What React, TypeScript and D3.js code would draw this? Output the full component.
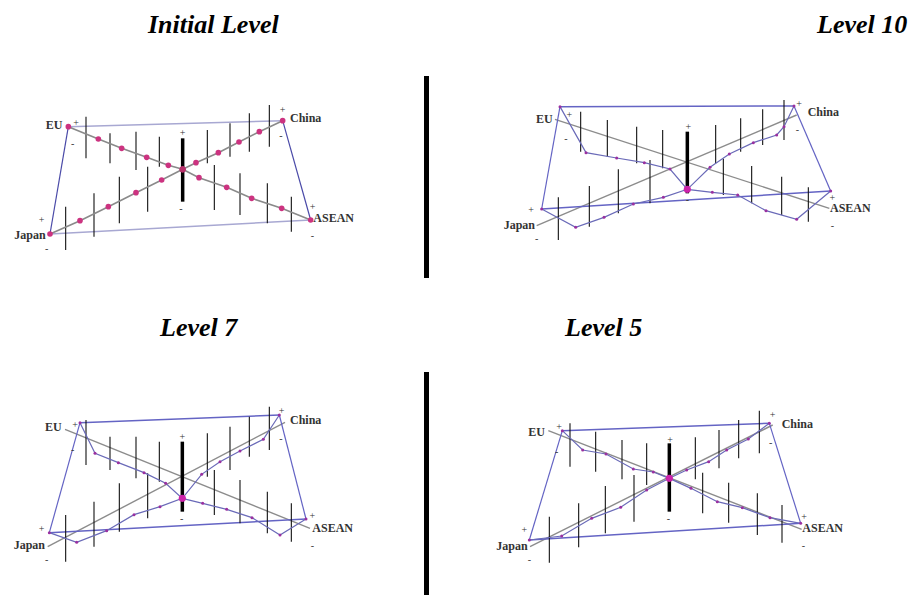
import React from "react";
import * as d3 from "d3";

const width = 914;
const height = 595;

// coordinates in drawing units (3 units = 1 px)
type Pt = [number, number];

const titles = ["Initial Level", "Level 10", "Level 7", "Level 5"];
const countries = ["EU", "China", "ASEAN", "Japan"];

// ---- Initial Level ----
const initialQuad: Pt[] = [[205, 140], [848, 122], [932, 420], [150, 462]];
const initialEuChain: Pt[] = [[205, 140], [295, 177], [365, 205], [440, 232], [505, 256], [548, 268], [597, 293], [680, 322], [755, 355], [845, 385], [932, 420]];
const initialJapanChain: Pt[] = [[150, 462], [240, 422], [325, 380], [408, 338], [485, 300], [548, 268], [588, 248], [655, 218], [717, 186], [778, 155], [848, 122]];
const initialBars: number[][] = [[258, 110, 235], [330, 160, 250], [408, 155, 270], [478, 170, 260], [622, 150, 250], [690, 130, 230], [748, 100, 215], [808, 75, 200], [197, 380, 510], [282, 340, 470], [358, 290, 430], [443, 260, 395], [643, 255, 390], [720, 280, 405], [802, 310, 430], [874, 350, 455]];
const initialCenter = [548, 175, 365, 268];
const initialLabels: Pt[] = [[187, 146], [870, 126], [940, 426], [137, 476]];
const initialSigns: [number, number, string][] = [[228, 126, "+"], [218, 190, "-"], [848, 87, "+"], [843, 165, "-"], [938, 380, "+"], [937, 466, "-"], [125, 418, "+"], [140, 506, "-"], [548, 158, "+"], [543, 386, "-"]];

// ---- Level 10 ----
const level10Quad: Pt[] = [[240, 80], [942, 78], [1052, 333], [185, 387]];
const level10Diagonals: Pt[][] = [[[225, 118], [1048, 385]], [[170, 437], [950, 105]]];
const level10EuChain: Pt[] = [[240, 80], [318, 218], [410, 234], [493, 248], [570, 267], [622, 328], [697, 337], [773, 345], [858, 392], [950, 418], [1052, 333]];
const level10JapanChain: Pt[] = [[185, 387], [287, 442], [372, 412], [460, 372], [550, 352], [622, 328], [690, 262], [748, 222], [820, 188], [890, 165], [912, 140], [942, 78]];
const level10Bars: number[][] = [[302, 95, 215], [382, 120, 230], [470, 140, 250], [548, 150, 265], [707, 135, 250], [782, 115, 215], [848, 88, 195], [912, 60, 180], [235, 352, 480], [328, 318, 440], [415, 268, 400], [510, 240, 370], [730, 236, 345], [815, 258, 370], [905, 290, 405], [985, 322, 425]];
const level10Center = [622, 155, 340, 328];
const level10Labels: Pt[] = [[218, 128], [983, 108], [1050, 396], [165, 446]];
const level10Signs: [number, number, string][] = [[268, 104, "+"], [258, 174, "-"], [957, 70, "+"], [952, 147, "-"], [1057, 352, "+"], [1057, 436, "-"], [153, 387, "+"], [170, 474, "-"], [625, 140, "+"], [622, 358, "-"]];

// ---- Level 7 ----
const level7Quad: Pt[] = [[240, 98], [838, 75], [918, 387], [148, 428]];
const level7Diagonals: Pt[][] = [[[195, 118], [930, 415]], [[143, 470], [855, 97]]];
const level7EuChain: Pt[] = [[240, 98], [285, 190], [355, 218], [432, 248], [497, 280], [547, 325], [608, 340], [680, 358], [756, 383], [840, 435], [918, 387]];
const level7JapanChain: Pt[] = [[148, 428], [230, 457], [320, 422], [402, 374], [480, 350], [547, 325], [605, 253], [660, 215], [720, 183], [790, 148], [838, 75]];
const level7Bars: number[][] = [[258, 90, 225], [330, 140, 240], [408, 140, 265], [478, 155, 275], [622, 130, 260], [690, 110, 240], [748, 80, 200], [808, 50, 180], [197, 375, 515], [282, 335, 470], [358, 280, 425], [443, 250, 385], [643, 240, 375], [720, 270, 400], [802, 305, 430], [874, 340, 455]];
const level7Center = [547, 155, 365, 325];
const level7Labels: Pt[] = [[185, 124], [870, 103], [937, 426], [135, 477]];
const level7Signs: [number, number, string][] = [[225, 102, "+"], [218, 177, "-"], [845, 62, "+"], [843, 145, "-"], [937, 376, "+"], [937, 466, "-"], [125, 414, "+"], [140, 507, "-"], [547, 139, "+"], [545, 384, "-"]];

// ---- Level 5 ----
const level5Quad: Pt[] = [[247, 122], [868, 100], [962, 400], [148, 450]];
const level5Diagonals: Pt[][] = [[[205, 122], [965, 418]], [[150, 470], [878, 105]]];
const level5EuChain: Pt[] = [[247, 122], [308, 180], [378, 192], [460, 237], [520, 246], [568, 265], [633, 295], [712, 335], [787, 353], [870, 383], [962, 400]];
const level5JapanChain: Pt[] = [[148, 450], [245, 438], [335, 385], [422, 352], [500, 300], [568, 265], [620, 240], [686, 215], [740, 180], [805, 147], [868, 100]];
const level5Bars: number[][] = [[270, 100, 230], [347, 125, 245], [426, 150, 268], [500, 160, 285], [646, 142, 268], [717, 120, 235], [776, 90, 205], [838, 62, 190], [208, 380, 518], [296, 340, 472], [376, 288, 430], [462, 255, 395], [668, 248, 370], [746, 278, 398], [832, 310, 435], [906, 345, 458]];
const level5Center = [568, 160, 365, 265];
const level5Labels: Pt[] = [[195, 138], [905, 113], [967, 426], [143, 479]];
const level5Signs: [number, number, string][] = [[237, 110, "+"], [230, 184, "-"], [878, 72, "+"], [872, 157, "-"], [972, 378, "+"], [970, 466, "-"], [133, 419, "+"], [148, 509, "-"], [570, 147, "+"], [565, 384, "-"]];

const panelOrigins: Pt[] = [[0, 80], [480, 80], [0, 390], [480, 390]];
const titlePos: Pt[] = [[148, 33], [817, 33], [160, 336], [565, 336]];
const dividers: Pt[] = [[76, 278], [372, 595]];

const panels = [
  { quad: initialQuad, diagonals: [] as Pt[][], eu: initialEuChain, japan: initialJapanChain, bars: initialBars, center: initialCenter, labels: initialLabels, signs: initialSigns, initial: true },
  { quad: level10Quad, diagonals: level10Diagonals, eu: level10EuChain, japan: level10JapanChain, bars: level10Bars, center: level10Center, labels: level10Labels, signs: level10Signs, initial: false },
  { quad: level7Quad, diagonals: level7Diagonals, eu: level7EuChain, japan: level7JapanChain, bars: level7Bars, center: level7Center, labels: level7Labels, signs: level7Signs, initial: false },
  { quad: level5Quad, diagonals: level5Diagonals, eu: level5EuChain, japan: level5JapanChain, bars: level5Bars, center: level5Center, labels: level5Labels, signs: level5Signs, initial: false },
];

const serif = "'Liberation Serif', 'Times New Roman', serif";

const Panel = ({ p, origin }: { p: typeof panels[0]; origin: Pt }) => {
  const x = d3.scaleLinear().domain([0, 1200]).range([origin[0], origin[0] + 400]);
  const y = d3.scaleLinear().domain([0, 570]).range([origin[1], origin[1] + 190]);
  const line = d3.line<Pt>().x(d => x(d[0])).y(d => y(d[1]));
  const q = p.quad;
  const sideColor = p.initial ? "#4a4aa8" : "#6464c4";
  const topColor = p.initial ? "#a8a8d2" : "#6464c4";
  const chainColor = p.initial ? "#8a8a8a" : "#6a6ab8";
  const dotColor = p.initial ? "#cc3380" : "#9a30a0";
  const anchors = ["end", "start", "start", "end"];
  return (
    <g>
      {p.diagonals.map((d, i) => (
        <path key={"d" + i} d={line(d) ?? ""} stroke="#8c8c8c" strokeWidth={1.4} fill="none" />
      ))}
      <path d={line([q[0], q[1]]) ?? ""} stroke={topColor} strokeWidth={1.5} fill="none" />
      <path d={line([q[3], q[2]]) ?? ""} stroke={topColor} strokeWidth={1.5} fill="none" />
      <path d={line([q[1], q[2]]) ?? ""} stroke={sideColor} strokeWidth={1.2} fill="none" />
      <path d={line([q[0], q[3]]) ?? ""} stroke={sideColor} strokeWidth={1.2} fill="none" />
      {p.bars.map((b, i) => (
        <line key={"b" + i} x1={x(b[0])} x2={x(b[0])} y1={y(b[1])} y2={y(b[2])} stroke="#111" strokeWidth={1.1} />
      ))}
      <line x1={x(p.center[0])} x2={x(p.center[0])} y1={y(p.center[1])} y2={y(p.center[2])} stroke="#000" strokeWidth={3.5} />
      <path d={line(p.eu) ?? ""} stroke={chainColor} strokeWidth={p.initial ? 1.6 : 1.2} fill="none" />
      <path d={line(p.japan) ?? ""} stroke={chainColor} strokeWidth={p.initial ? 1.6 : 1.2} fill="none" />
      {[...p.eu, ...p.japan].map((d, i) => (
        <circle key={"c" + i} cx={x(d[0])} cy={y(d[1])} r={p.initial ? 2.8 : 1.5} fill={dotColor} />
      ))}
      <circle cx={x(p.center[0])} cy={y(p.center[3])} r={p.initial ? 3.2 : 3.6} fill={p.initial ? "#b8306a" : "#cc22aa"} />
      {p.labels.map((d, i) => (
        <text key={"l" + i} x={x(d[0])} y={y(d[1])} textAnchor={anchors[i]} fontFamily={serif} fontSize={12} fontWeight="bold" fill="#333">
          {countries[i]}
        </text>
      ))}
      {p.signs.map((s, i) => (
        <text key={"s" + i} x={x(s[0])} y={y(s[1])} textAnchor="middle" dominantBaseline="central" fontFamily={serif} fontSize={10} fill="#333">
          {s[2]}
        </text>
      ))}
    </g>
  );
};

const App = () => {
  return (
    <svg width={width} height={height} style={{ position: "absolute", left: 0, top: 0, background: "#fff" }}>
      <rect width={width} height={height} fill="#fff" />
      {panels.map((p, i) => (
        <Panel key={i} p={p} origin={panelOrigins[i]} />
      ))}
      {titles.map((t, i) => (
        <text key={t} x={titlePos[i][0]} y={titlePos[i][1]} fontFamily={serif} fontSize={26} fontWeight="bold" fontStyle="italic" fill="#000">
          {t}
        </text>
      ))}
      {dividers.map((d, i) => (
        <rect key={"v" + i} x={424} y={d[0]} width={5} height={d[1] - d[0]} fill="#000" />
      ))}
    </svg>
  );
};

export default App;
